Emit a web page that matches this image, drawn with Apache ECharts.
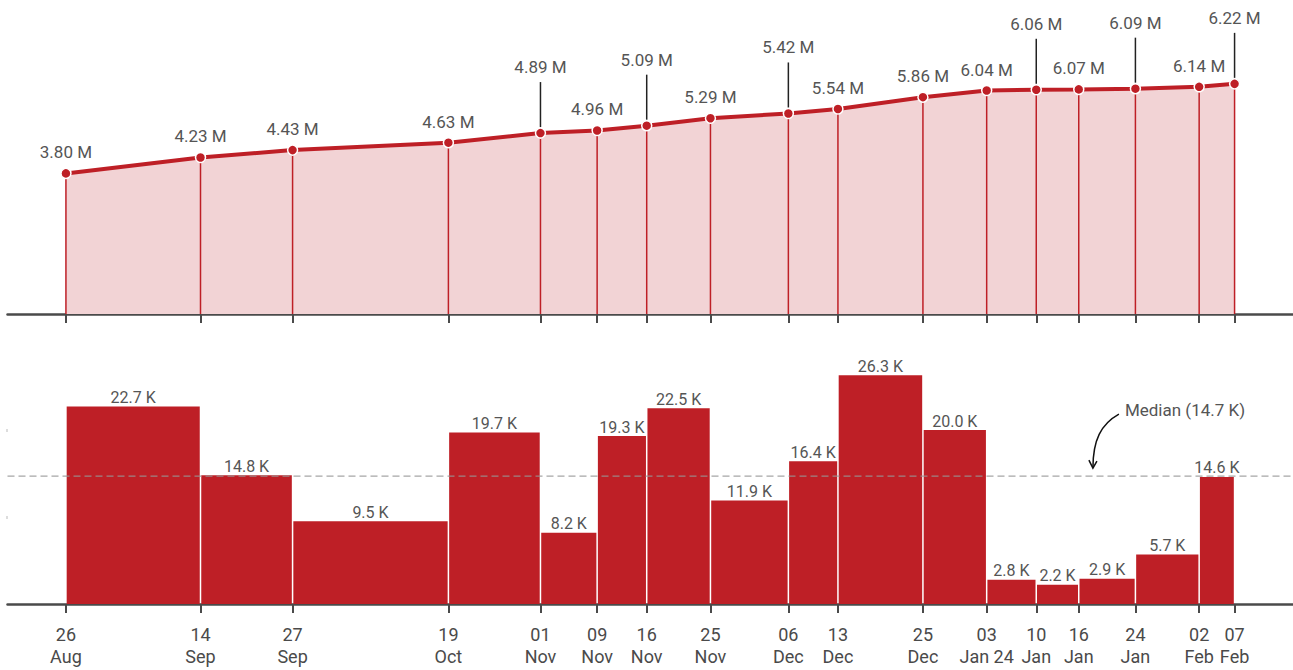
<!DOCTYPE html>
<html>
<head>
<meta charset="utf-8">
<script src="https://cdn.jsdelivr.net/npm/echarts@6/dist/echarts.min.js"></script>
<style>
  html, body { margin: 0; padding: 0; background: #fff; }
  #chart { width: 1293px; height: 670px; }
</style>
</head>
<body>
<div id="chart"></div>
<script>
// Snapshot dates, cumulative totals (millions) and average daily gain between snapshots (thousands)
const dates = ['2023-08-26', '2023-09-14', '2023-09-27', '2023-10-19', '2023-11-01', '2023-11-09',
  '2023-11-16', '2023-11-25', '2023-12-06', '2023-12-13', '2023-12-25', '2024-01-03',
  '2024-01-10', '2024-01-16', '2024-01-24', '2024-02-02', '2024-02-07'];
const tickLabels = ['26\nAug', '14\nSep', '27\nSep', '19\nOct', '01\nNov', '09\nNov', '16\nNov',
  '25\nNov', '06\nDec', '13\nDec', '25\nDec', '03\nJan 24', '10\nJan', '16\nJan', '24\nJan',
  '02\nFeb', '07\nFeb'];
const totals = [3.80, 4.23, 4.43, 4.63, 4.89, 4.96, 5.09, 5.29, 5.42, 5.54, 5.86, 6.04, 6.06,
  6.07, 6.09, 6.14, 6.22];
const dailyGain = [22.7, 14.8, 9.5, 19.7, 8.2, 19.3, 22.5, 11.9, 16.4, 26.3, 20.0, 2.8, 2.2,
  2.9, 5.7, 14.6];
const medianGain = 14.7;
const medianNoteDate = '2024-01-18';

// Labels lifted on a leader line so neighbours don't collide
const RAISED = [4, 6, 8, 12, 14, 16];

const RED = '#be1f26';
const PINK = '#f2d3d5';
const TEXT = '#555';
const AXIS = '#4a4a4a';
const FONT = 'Roboto, "Noto Sans", sans-serif';

// Dates become epoch milliseconds on a linear axis
const times = dates.map(d => Date.parse(d));
const span = times[times.length - 1] - times[0];
const xMin = times[0] - span * 0.05;
const xMax = times[times.length - 1] + span * 0.05;

function labelFor(v) {
  let best = 0;
  for (let i = 1; i < times.length; i++) {
    if (Math.abs(times[i] - v) < Math.abs(times[best] - v)) best = i;
  }
  return Math.abs(times[best] - v) < 43200000 ? tickLabels[best] : '';
}

function dateAxis(gridIndex, showLabels) {
  return {
    type: 'value', gridIndex, min: xMin, max: xMax, scale: true,
    axisLine: { show: true, onZero: false, lineStyle: { color: AXIS, width: 2.5 } },
    axisTick: { show: true, customValues: times, length: 9, lineStyle: { color: AXIS, width: 2 } },
    axisLabel: {
      show: showLabels, customValues: times, formatter: v => labelFor(v),
      color: AXIS, fontSize: 18, lineHeight: 21.5, fontFamily: FONT, margin: 20,
      hideOverlap: false, showMinLabel: true, showMaxLabel: true
    },
    splitLine: { show: false }
  };
}

const totalPoints = times.map((t, i) => [t, totals[i]]);
const gainSpans = dailyGain.map((v, i) => [times[i], times[i + 1], v]);

const chart = echarts.init(document.getElementById('chart'), null, { renderer: 'svg' });
chart.setOption({
  animation: false,
  grid: [
    { left: 7.5, right: 0, top: 18, height: 296 },
    { left: 7.5, right: 0, top: 343, height: 261 }
  ],
  xAxis: [dateAxis(0, false), dateAxis(1, true)],
  yAxis: [
    { type: 'value', gridIndex: 0, min: 0, max: 8, show: false },
    {
      type: 'value', gridIndex: 1, min: 0, max: 30, interval: 10,
      axisLine: { show: false },
      axisTick: { show: true, customValues: [10, 20], length: 1, lineStyle: { color: '#bbb', width: 3 } },
      axisLabel: { show: false }, splitLine: { show: false }
    }
  ],
  series: [
    // shaded area under the cumulative curve
    {
      type: 'line', xAxisIndex: 0, yAxisIndex: 0, data: totalPoints, z: 1,
      symbol: 'none', lineStyle: { width: 0 }, areaStyle: { color: PINK, opacity: 1 }, silent: true
    },
    // drop lines from each snapshot to the axis
    {
      type: 'custom', xAxisIndex: 0, yAxisIndex: 0, data: totalPoints, z: 2, silent: true,
      renderItem(params, api) {
        const top = api.coord([api.value(0), api.value(1)]);
        const base = api.coord([api.value(0), 0]);
        return { type: 'line', shape: { x1: top[0], y1: top[1], x2: base[0], y2: base[1] },
          style: { stroke: RED, lineWidth: 1.5 } };
      }
    },
    // cumulative curve with markers
    {
      type: 'line', xAxisIndex: 0, yAxisIndex: 0, data: totalPoints, z: 3,
      symbol: 'circle', symbolSize: 10,
      lineStyle: { color: RED, width: 4 },
      itemStyle: { color: RED, borderColor: '#fff', borderWidth: 1.5 }
    },
    // value labels for the cumulative curve
    {
      type: 'custom', xAxisIndex: 0, yAxisIndex: 0, data: totalPoints, z: 4, silent: true,
      renderItem(params, api) {
        const p = api.coord([api.value(0), api.value(1)]);
        const raised = RAISED.includes(params.dataIndex);
        const ly = raised ? p[1] - 66 : p[1] - 21;
        const children = [{
          type: 'text',
          style: { text: api.value(1).toFixed(2) + ' M', x: p[0], y: ly, align: 'center',
            verticalAlign: 'middle', fill: TEXT, fontSize: 17, fontFamily: FONT }
        }];
        if (raised) {
          children.push({ type: 'line', shape: { x1: p[0], y1: p[1] - 6, x2: p[0], y2: ly + 15 },
            style: { stroke: '#222', lineWidth: 1.5 } });
        }
        return { type: 'group', children };
      }
    },
    // average daily gain between snapshots
    {
      type: 'custom', xAxisIndex: 1, yAxisIndex: 1, data: gainSpans, z: 2,
      encode: { x: [0, 1], y: 2 },
      renderItem(params, api) {
        const tl = api.coord([api.value(0), api.value(2)]);
        const br = api.coord([api.value(1), 0]);
        const cx = (tl[0] + br[0]) / 2;
        return {
          type: 'group',
          children: [
            { type: 'rect', shape: { x: tl[0] + 0.75, y: tl[1], width: br[0] - tl[0] - 1.5, height: br[1] - tl[1] },
              style: { fill: RED } },
            { type: 'text', style: { text: api.value(2).toFixed(1) + ' K', x: cx, y: tl[1] - 9,
              align: 'center', verticalAlign: 'middle', fill: TEXT, fontSize: 16, fontFamily: FONT } }
          ]
        };
      }
    },
    // median reference line and its note
    {
      type: 'custom', xAxisIndex: 1, yAxisIndex: 1, z: 5, silent: true,
      data: [[Date.parse(medianNoteDate), medianGain]],
      renderItem(params, api) {
        const cs = params.coordSys;
        const p = api.coord([api.value(0), api.value(1)]);
        const tx = p[0], ty = p[1] - 8;
        return {
          type: 'group',
          children: [
            { type: 'line', shape: { x1: cs.x, y1: p[1], x2: cs.x + cs.width, y2: p[1] },
              style: { stroke: 'rgba(150,150,150,0.85)', lineWidth: 1.3, lineDash: [7, 4] } },
            { type: 'bezierCurve', shape: { x1: tx + 26, y1: ty - 54, cpx1: tx + 8, cpy1: ty - 44,
                cpx2: tx, cpy2: ty - 28, x2: tx, y2: ty },
              style: { stroke: '#111', lineWidth: 1.5, fill: null } },
            { type: 'polyline', shape: { points: [[tx - 4, ty - 8], [tx, ty], [tx + 4, ty - 7]] },
              style: { stroke: '#111', lineWidth: 1.5, fill: null } },
            { type: 'text', style: { text: 'Median (' + api.value(1).toFixed(1) + ' K)', x: tx + 32, y: ty - 58,
              align: 'left', verticalAlign: 'middle', fill: TEXT, fontSize: 17, fontFamily: FONT } }
          ]
        };
      }
    }
  ]
});
</script>
</body>
</html>
